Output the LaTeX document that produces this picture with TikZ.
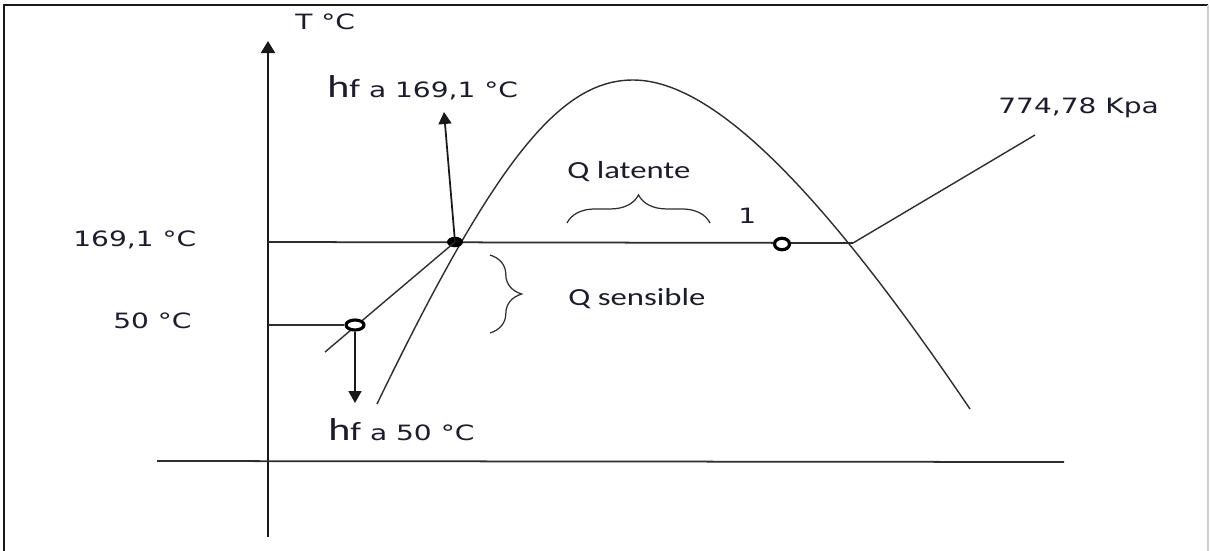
\documentclass[tikz,border=0pt]{standalone}
\usepackage{fontspec}
\newfontfamily\verdfont[FakeStretch=1.33]{DejaVu Sans}
\newfontfamily\calfont[FakeStretch=1.33]{Carlito}
\usetikzlibrary{
  shapes.geometric,
  arrows.meta,
  positioning,
  decorations.pathreplacing
}
\definecolor{labelcolor}{RGB}{28, 28, 48}
\definecolor{linecolor}{RGB}{45, 45, 45}
\definecolor{framecolor}{RGB}{25, 25, 25}
\definecolor{rightframecolor}{RGB}{205, 205, 205}
\tikzset{
valuelabel/.style={
  font=\verdfont\fontsize{12}{14}\selectfont,
  text=labelcolor,
  inner sep=0pt
},
qlabel/.style={
  font=\calfont\fontsize{14}{16}\selectfont,
  text=labelcolor,
  inner sep=0pt
},
curveline/.style={
  line width=0.8pt,
  draw=linecolor
}
}
\newcommand{\hfmark}{{\calfont\fontsize{18}{20}\selectfont h\fontsize{15}{18}\selectfont f}}

\begin{document}
\begin{tikzpicture}[
    x=0.2mm, y=-0.2mm,
    % Estilos dos eixos e setas
    axisline/.style={line width=1.2pt, draw=framecolor, -{Triangle[length=2.4mm, width=2.8mm]}},
    arrow/.style={line width=1pt, draw=framecolor, -{Triangle[length=2.4mm, width=2.6mm]}},
    qbrace/.style={decorate, decoration={brace, amplitude=#1}, line width=0.7pt, draw=linecolor},
    % Estilos dos pontos
    satdot/.style={ellipse, fill=black, minimum width=3.2mm, minimum height=2.1mm, inner sep=0pt},
    ringdot/.style 2 args={ellipse, draw=black, fill=white, line width=1.8pt, minimum width=#1, minimum height=#2, inner sep=0pt},
]
\useasboundingbox (0,0) rectangle (1210,550);

% ============================================================================
% MOLDURA
% ============================================================================
\draw[framecolor, line width=1.4pt] (4,551) -- (4,5) -- (1208,5);
\draw[rightframecolor, line width=0.8pt] (1208,5) -- (1208,551);

% ============================================================================
% EIXOS
% ============================================================================
\coordinate (axisbot) at (268,537);
\coordinate (axistop) at (268,41);
\coordinate (basel) at (157,461);
\coordinate (baser) at (1064,462);
\draw[axisline] (axisbot) -- (axistop);
\draw[curveline, line width=1pt] (basel) -- (baser);
\node[valuelabel, anchor=base west] (tlabel) at (295,29) {T °C};

% ============================================================================
% CAMPANA DE SATURAÇÃO
% ============================================================================
\coordinate (domel) at (377,404);
\coordinate (dometop) at (633,80);
\coordinate (domer) at (970,409);
\draw[curveline] (domel) .. controls (495,160) and (560,80) .. (dometop)
  .. controls (715,80) and (825,195) .. (domer);

% ============================================================================
% ISOTERMAS E PONTOS
% ============================================================================
\coordinate (t169) at (268,242);
\coordinate (t50) at (268,325);
\coordinate (pend) at (853,243);
\coordinate (kpaend) at (1035,135);
\coordinate (tangbot) at (325,352);
\coordinate (hfup) at (444,112);
\coordinate (hfdown) at (355,403);

\draw[curveline, line width=1pt] (t169) -- (pend);
\draw[curveline] (pend) -- (kpaend);
\node[satdot] (sat) at (455,242) {};
\draw[curveline] (sat.center) -- (tangbot);
\node[ringdot={3.6mm}{2mm}] (liq50) at (355,325) {};
\node[ringdot={3mm}{2.3mm}] (state1) at (782,244) {};
\draw[curveline, line width=1pt] (t50) -- (liq50.west);
\draw[arrow] (sat.center) -- (hfup);
\draw[arrow] (liq50.south) -- (hfdown);

% ============================================================================
% CHAVES
% ============================================================================
\coordinate (latl) at (567,223);
\coordinate (latr) at (710,223);
\coordinate (sent) at (490,255);
\coordinate (senb) at (490,333);
\draw[qbrace=16pt] (latl) -- (latr);
\draw[qbrace=18pt] (sent) -- (senb);

% ============================================================================
% RÓTULOS
% ============================================================================
\node[valuelabel, anchor=base west] (lab169) at (73,246) {169,1 °C};
\node[valuelabel, anchor=base west] (lab50) at (113,328) {50 °C};
\node[valuelabel, anchor=base west] (labkpa) at (998,113) {774,78 Kpa};
\node[valuelabel, anchor=base west] (labone) at (738,223) {1};
\node[valuelabel, anchor=base west] (hfsat) at (327,97) {\hfmark{} a 169,1 °C};
\node[valuelabel, anchor=base west] (hfliq) at (328,440) {\hfmark{} a 50 °C};
\node[qlabel, anchor=base west] (qlat) at (567,178) {Q latente};
\node[qlabel, anchor=base west] (qsen) at (568,305) {Q sensible};

\end{tikzpicture}
\end{document}
